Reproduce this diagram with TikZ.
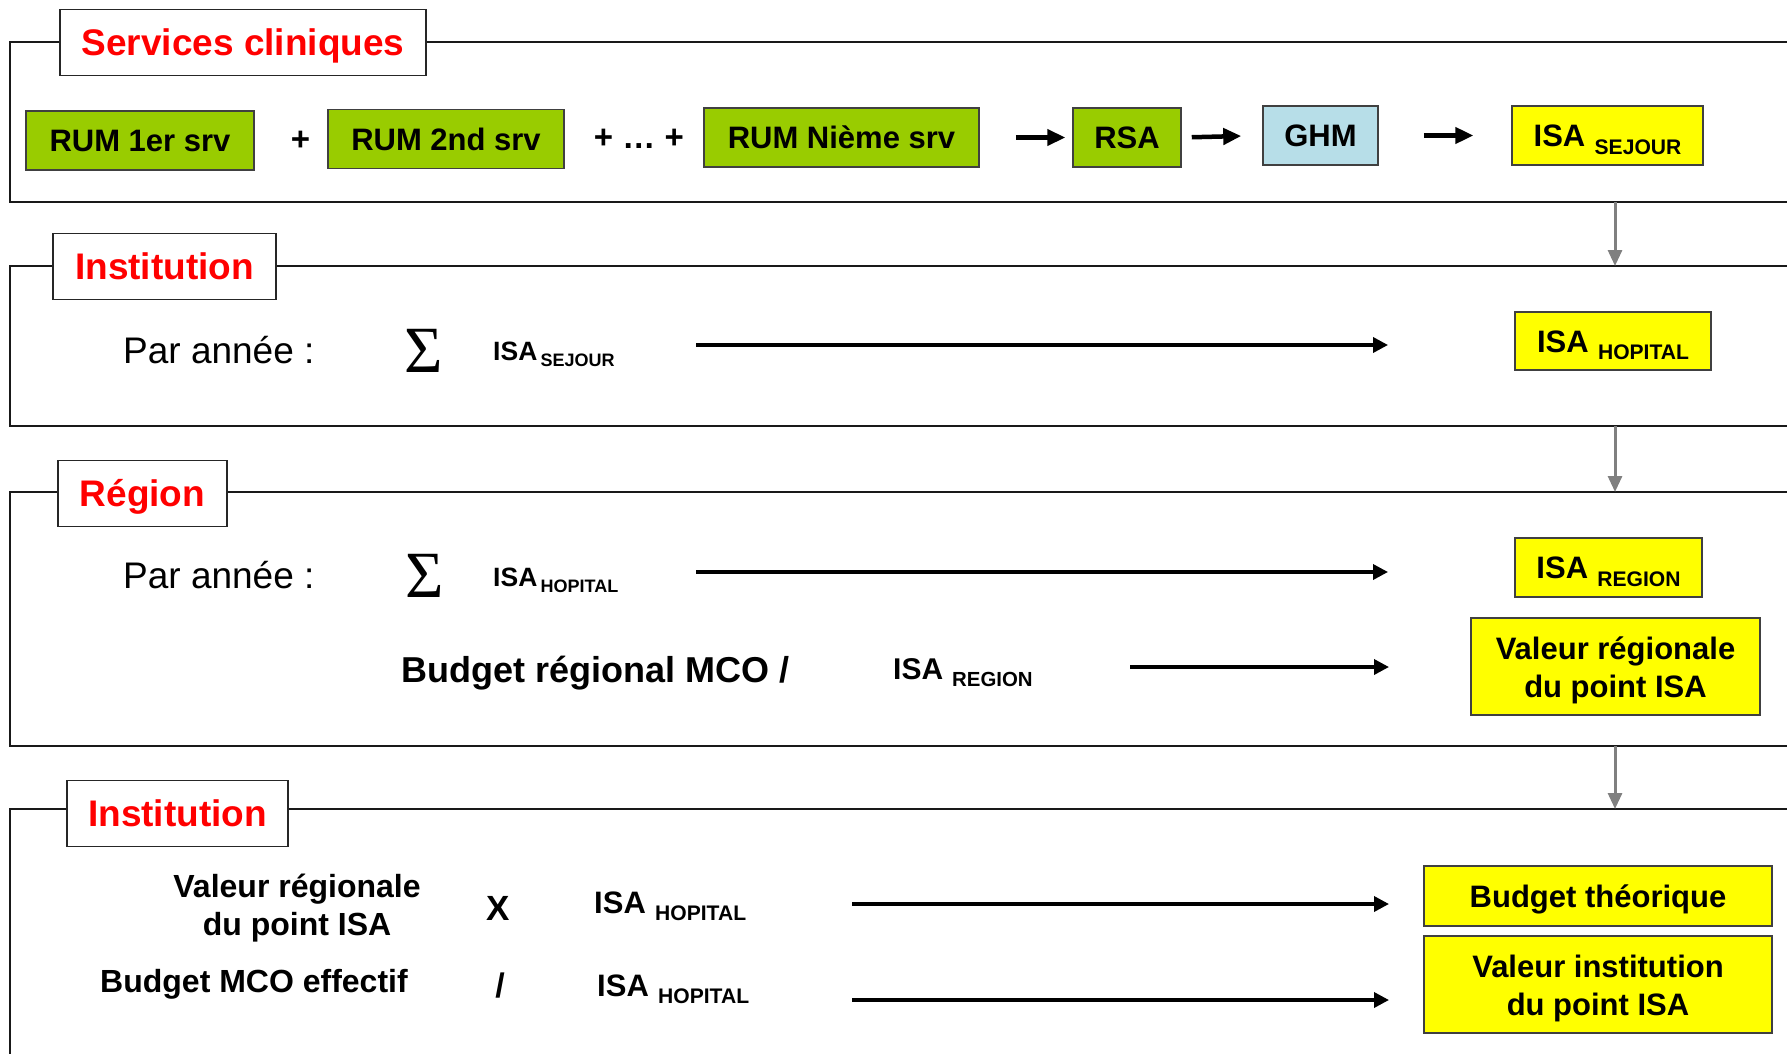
\documentclass[tikz,border=0pt]{standalone}
\usepackage{fontspec}
\setmainfont{Liberation Sans}
\newfontfamily\sigmafont{Liberation Serif}
\usetikzlibrary{arrows.meta,positioning}
\definecolor{TitleRed}{RGB}{255,0,0}
\definecolor{RumGreen}{RGB}{153,204,0}
\definecolor{GhmBlue}{RGB}{183,222,232}
\definecolor{IsaYellow}{RGB}{255,255,0}
\definecolor{LinkGray}{RGB}{128,128,128}
\newcommand{\pxfont}[2]{\fontsize{#1}{#2}\selectfont}
\newcommand{\isa}[2][0.3em]{ISA\hspace{#1}\raisebox{-0.25em}{\scalebox{0.68}{#2}}}
\tikzset{
  framebox/.style={line width=2pt,draw=black!90},
  titlebox/.style={draw=black!85,line width=1.8pt,fill=white,text=TitleRed,
    font=\pxfont{37}{44}\bfseries,minimum height=66pt,inner sep=0pt,
    text height=26.5pt,text depth=0pt},
  rumbox/.style={draw=black!75,line width=1.5pt,fill=RumGreen,
    font=\pxfont{31}{38}\bfseries,minimum height=59pt,inner sep=0pt,
    text height=22.2pt,text depth=0pt},
  ghmbox/.style={rumbox,fill=GhmBlue},
  isabox/.style={rumbox,fill=IsaYellow},
  valbox/.style={draw=black!75,line width=1.5pt,fill=IsaYellow,align=center,
    font=\pxfont{31}{38}\bfseries,minimum height=97pt,inner sep=0pt,
    text height=62pt,text depth=1pt},
  plaintext/.style={font=\pxfont{37}{44},anchor=base west,inner sep=0pt},
  boldtext/.style={font=\pxfont{31}{38}\bfseries,anchor=base west,inner sep=0pt},
  smalltext/.style={font=\pxfont{26.5}{32}\bfseries,anchor=base west,inner sep=0pt},
  sigmatext/.style={font=\sigmafont\pxfont{66}{66},anchor=base west,inner sep=0pt},
  signtext/.style={font=\pxfont{33}{38}\bfseries,inner sep=0pt},
  shortarrow/.style={-{Triangle[length=18pt,width=16pt]},line width=4.5pt},
  flowarrow/.style={-{Triangle[length=15pt,width=15pt]},line width=3.5pt},
  downarrow/.style={-{Triangle[length=16pt,width=14pt]},line width=3pt,draw=LinkGray},
}
\begin{document}
\begin{tikzpicture}[x=1pt,y=-1pt]
\useasboundingbox (0,0) rectangle (1787,1054);
% the four bands
\draw[framebox] (1795,42) -| (10,202) -- (1795,202);
\draw[framebox] (1795,266) -| (10,426) -- (1795,426);
\draw[framebox] (1795,492) -| (10,746) -- (1795,746);
\draw[framebox] (1795,809) -| (10,1060);
\node[titlebox,minimum width=366pt] (svc) at (243,42.5) {Services cliniques};
\node[titlebox,minimum width=223pt] (inst) at (164.5,266.5) {Institution};
\node[titlebox,minimum width=169pt] (reg) at (142.5,493.5) {Région};
\node[titlebox,minimum width=221pt] (instb) at (177.5,813.5) {Institution};
% services cliniques
\node[rumbox,minimum width=228pt] (rum1) at (140,140.5) {RUM 1er srv};
\node[signtext,right=36pt of rum1] (plus1) {+};
\node[rumbox,minimum width=236pt] (rum2) at (446,139) {RUM 2nd srv};
\node[signtext,right=29pt of rum2] (plus2) {+ … +};
\node[rumbox,minimum width=275pt] (rumn) at (841.5,137.5) {RUM Nième srv};
\node[rumbox,minimum width=108pt] (rsa) at (1127,137.5) {RSA};
\node[ghmbox,minimum width=115pt] (ghm) at (1320.5,135.5) {GHM};
\node[isabox,minimum width=191pt] (isasej) at (1607.5,135.5) {\isa{SEJOUR}};
\draw[shortarrow,shorten <=36pt,shorten >=7pt] (rumn.east) -- (rsa.west);
\draw[shortarrow,shorten <=10pt,shorten >=21pt] (rsa.east) -- (ghm.west);
\draw[shortarrow,shorten <=45pt,shorten >=38pt] (ghm.east) -- (isasej.west);
% institution
\node[plaintext] (par1) at (123,363) {Par année :};
\node[sigmatext] (sum1) at (404,372) {Σ};
\node[smalltext] (isas) at (493,360) {\isa[0.12em]{SEJOUR}};
\node[isabox,minimum width=196pt,minimum height=58pt] (isahop) at (1613,341) {\isa{HOPITAL}};
\coordinate (a1s) at (696,345);
\coordinate (a1e) at (1388,345);
\draw[flowarrow] (a1s) -- (a1e);
% region
\node[plaintext] (par2) at (123,588) {Par année :};
\node[sigmatext] (sum2) at (405,597) {Σ};
\node[smalltext] (isah) at (493,586) {\isa[0.12em]{HOPITAL}};
\node[isabox,minimum width=187pt] (isareg) at (1608.5,567.5) {\isa{REGION}};
\coordinate (a2s) at (696,572);
\coordinate (a2e) at (1388,572);
\draw[flowarrow] (a2s) -- (a2e);
\node[boldtext,font=\pxfont{36}{44}\bfseries] (budreg) at (401,682) {Budget régional MCO /};
\node[boldtext,font=\pxfont{30}{36}\bfseries] (isar) at (893,679) {\isa{REGION}};
\node[valbox,minimum width=289pt] (valreg) at (1615.5,666.5) {Valeur régionale\\du point ISA};
\coordinate (a3s) at (1130,667);
\coordinate (a3e) at (1389,667);
\draw[flowarrow] (a3s) -- (a3e);
% institution, budget
\node[boldtext,font=\pxfont{32}{38}\bfseries,anchor=base,align=center] (valpt) at (297,935) {Valeur régionale\\du point ISA};
\node[signtext,font=\pxfont{35}{38}\bfseries,anchor=base] (times) at (498,920) {X};
\node[boldtext] (isah2) at (594,913) {\isa{HOPITAL}};
\node[isabox,minimum width=348pt,minimum height=60pt] (budth) at (1598,896) {Budget théorique};
\coordinate (a4s) at (852,904);
\coordinate (a4e) at (1389,904);
\draw[flowarrow] (a4s) -- (a4e);
\node[boldtext,font=\pxfont{32}{38}\bfseries] (budmco) at (100,992) {Budget MCO effectif};
\node[signtext,font=\pxfont{34}{38}\bfseries,anchor=base] (divide) at (500,997) {/};
\node[boldtext] (isah3) at (597,996) {\isa{HOPITAL}};
\node[valbox,minimum width=348pt] (valinst) at (1598,984.5) {Valeur institution\\du point ISA};
\coordinate (a5s) at (852,1000);
\coordinate (a5e) at (1389,1000);
\draw[flowarrow] (a5s) -- (a5e);
% links between bands
\coordinate (l1s) at (1615,202);
\coordinate (l1e) at (1615,266);
\coordinate (l2s) at (1615,426);
\coordinate (l2e) at (1615,492);
\coordinate (l3s) at (1615,746);
\coordinate (l3e) at (1615,809);
\draw[downarrow] (l1s) -- (l1e);
\draw[downarrow] (l2s) -- (l2e);
\draw[downarrow] (l3s) -- (l3e);
\end{tikzpicture}
\end{document}
